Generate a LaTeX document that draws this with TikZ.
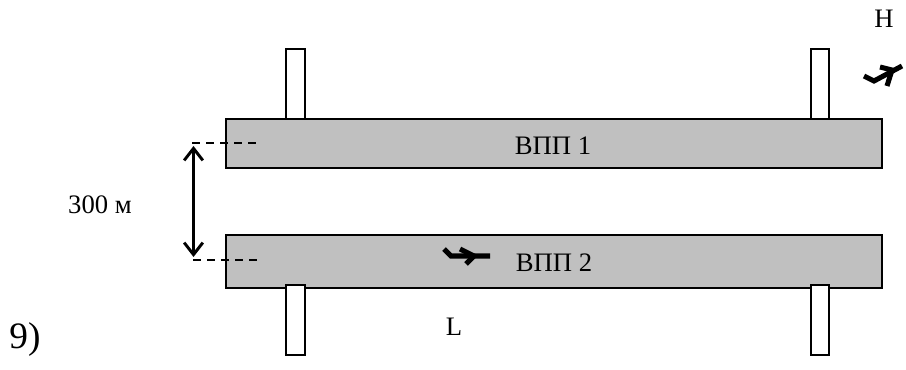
\documentclass[tikz,border=0pt]{standalone}
\usepackage{fontspec}
\setmainfont{Liberation Serif}
\usetikzlibrary{arrows.meta}
\definecolor{rwgray}{RGB}{192,192,192}
\tikzset{
  runway/.style={draw=black,fill=rwgray,line width=1.5pt,anchor=north west,inner sep=0pt,outer sep=0pt,minimum width=656*0.75pt,minimum height=49*0.75pt},
  stub/.style={draw=black,fill=white,line width=1.5pt,anchor=north west,inner sep=0pt,outer sep=0pt,minimum width=18.5*0.75pt,minimum height=70*0.75pt},
  txt/.style={inner sep=0pt,font=\fontsize{20}{24}\selectfont},
  guide/.style={dash pattern=on 6pt off 4.5pt,line width=1.2pt},
  span/.style={{Straight Barb[length=9pt,width=14pt,line width=2.2pt]}-{Straight Barb[length=9pt,width=14pt,line width=2.2pt]},line width=2.2pt},
  plane/.style={line width=3.8pt,line join=miter},
}
\begin{document}
\begin{tikzpicture}[x=0.75pt,y=-0.75pt]
\useasboundingbox (0,0) rectangle (906,370);
\node[stub] (s1) at (286,49) {};
\node[stub] (s2) at (810.5,49) {};
\node[runway] (r1) at (226,119) {};
\node[runway,minimum height=52.5*0.75pt] (r2) at (226,235.5) {};
\node[stub] (s3) at (286,285) {};
\node[stub] (s4) at (810.5,285) {};
\node[txt] (t1) at (553,146) {ВПП 1};
\node[txt] (t2) at (554,263) {ВПП 2};
\node[txt] (t3) at (100,205) {300 м};
\node[txt] (tL) at (454,327) {L};
\node[txt] (tH) at (884,19) {H};
\node[inner sep=0pt,font=\fontsize{28}{32}\selectfont] (t9) at (25,340) {9)};
\coordinate (d1a) at (192,143);
\coordinate (d1b) at (256,143);
\coordinate (d2a) at (193,260);
\coordinate (d2b) at (257,260);
\draw[guide] (d1a) -- (d1b);
\draw[guide] (d2a) -- (d2b);
\coordinate (a1) at (193.5,146);
\coordinate (a2) at (193.5,257);
\draw[span] (a1) -- (a2);
% plane near H
\draw[plane] (864,76) -- (874,81) -- (902,66);
\draw[plane] (880,67) -- (892,70) -- (887,86);
% plane on runway 2
\draw[plane] (444,249) -- (451,256) -- (490,256);
\draw[plane] (460,249) -- (474,256) -- (466,264);
\end{tikzpicture}
\end{document}
